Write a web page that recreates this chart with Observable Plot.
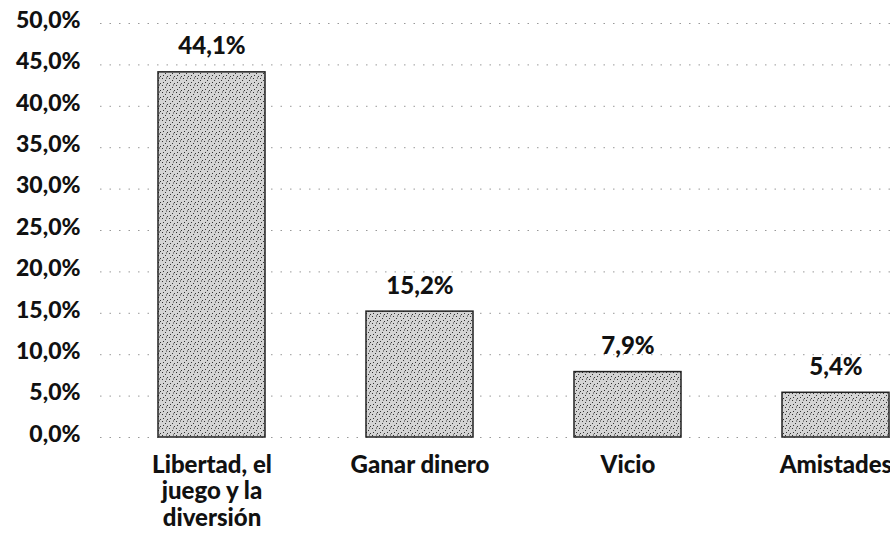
<!DOCTYPE html>
<html><head><meta charset="utf-8">
<script src="https://cdn.jsdelivr.net/npm/d3@7"></script>
<script src="https://cdn.jsdelivr.net/npm/@observablehq/plot@0.6"></script>
<style>
html,body{margin:0;padding:0;background:#fff;overflow:hidden;}
#chart{width:890px;height:552px;overflow:hidden;}
</style></head><body><div id="chart"></div>
<script>
const categories = ["Libertad, el juego y la diversión", "Ganar dinero", "Vicio", "Amistades"];
const categoryLabels = ["Libertad, el\njuego y la\ndiversión", "Ganar dinero", "Vicio", "Amistades"];
const values = [44.1, 15.2, 7.9, 5.4];
const yTicks = [0, 5, 10, 15, 20, 25, 30, 35, 40, 45, 50];

const data = categories.map((c, i) => ({category: c, value: values[i]}));
const fmt = v => v.toFixed(1).replace(".", ",") + "%";

const plot = Plot.plot({
  width: 890,
  height: 552,
  marginTop: 23,
  marginBottom: 115,
  marginLeft: 100,
  marginRight: 0,
  style: {fontFamily: "Lato, 'DejaVu Sans', sans-serif", fontWeight: 900, fontSize: "23px", color: "#111", background: "#fff", overflow: "hidden"},
  x: {domain: categories, range: [107, 939], paddingInner: 0.486, paddingOuter: 0.243, axis: null},
  y: {domain: [0, 50], axis: null},
  marks: [
    Plot.gridY(yTicks, {stroke: "#555", strokeOpacity: 0.6, strokeDasharray: "1.5,8"}),
    Plot.axisY(yTicks, {tickSize: 0, tickPadding: 20, tickFormat: fmt, label: null, fontSize: 23, fontWeight: 900, dy: -3, fill: "#111"}),
    Plot.barY(data, {x: "category", y: "value", fill: "url(#stipple)", stroke: "#222", strokeWidth: 1.5}),
    Plot.text(data, {x: "category", y: "value", text: d => fmt(d.value), dy: -18, lineAnchor: "bottom", fontSize: 24, fontWeight: 900, fill: "#111"}),
    Plot.axisX({tickSize: 0, tickPadding: 16, tickFormat: c => categoryLabels[categories.indexOf(c)], label: null, fontSize: 24, fontWeight: 900, lineHeight: 1.12, fill: "#111"})
  ]
});

const svg = d3.select(plot);
const pat = svg.insert("defs", ":first-child").append("pattern")
  .attr("id", "stipple").attr("patternUnits", "userSpaceOnUse")
  .attr("width", 7).attr("height", 7);
pat.append("rect").attr("width", 7).attr("height", 7).attr("fill", "#d4d4d4");
[[1,1],[4,3],[2,5],[6,6],[5,0.5]].forEach(([x, y]) =>
  pat.append("rect").attr("x", x).attr("y", y).attr("width", 1).attr("height", 1).attr("fill", "#333"));

document.getElementById("chart").appendChild(plot);
</script></body></html>
